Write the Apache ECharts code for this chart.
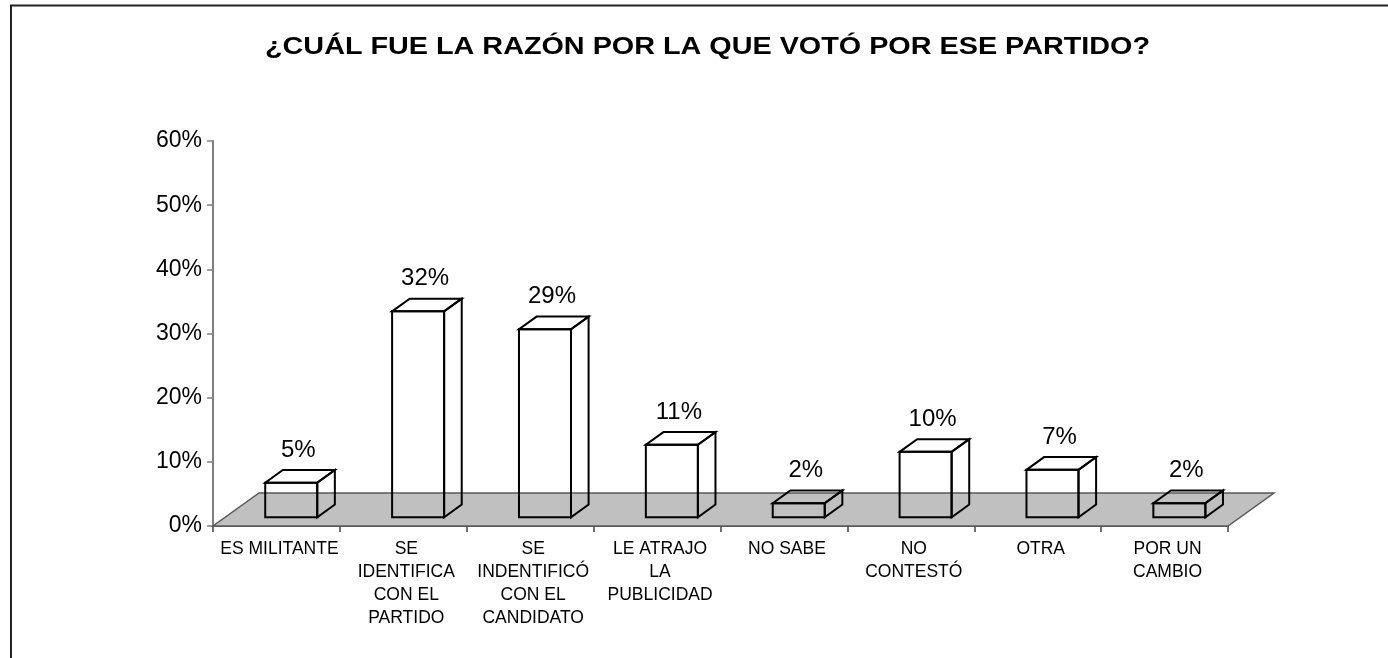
<!DOCTYPE html>
<html>
<head>
<meta charset="utf-8">
<script src="https://cdn.jsdelivr.net/npm/echarts@6/dist/echarts.min.js"></script>
<style>
html,body{margin:0;padding:0;background:#fff;}
#chart{width:1388px;height:658px;}
</style>
</head>
<body>
<div id="chart"></div>
<script>
// ---- data ----
var titleText = '¿CUÁL FUE LA RAZÓN POR LA QUE VOTÓ POR ESE PARTIDO?';
var categories = [
  'ES MILITANTE',
  'SE\nIDENTIFICA\nCON EL\nPARTIDO',
  'SE\nINDENTIFICÓ\nCON EL\nCANDIDATO',
  'LE ATRAJO\nLA\nPUBLICIDAD',
  'NO SABE',
  'NO\nCONTESTÓ',
  'OTRA',
  'POR UN\nCAMBIO'
];
var values = [5.4, 32.1, 29.3, 11.3, 2.2, 10.2, 7.4, 2.2];
var yTicks = [0, 10, 20, 30, 40, 50, 60];

// ---- drawing ----
var FONT = '"Liberation Sans", Arial, Helvetica, sans-serif';
var chart = echarts.init(document.getElementById('chart'), null, {renderer: 'canvas'});

var floorDepth = [46, -33];   // px offset of floor back edge
var barShift = [14.8, -8.7];  // offset of bar front face from axis front
var barDepth = [17.6, -12.7]; // depth of each bar
var barWidthRatio = 0.41;

function renderFloor(params, api) {
  var n = categories.length;
  var c0 = api.coord([0, 0]);
  var cn = api.coord([n - 1, 0]);
  var w = api.size([1, 0])[0];
  var x0 = c0[0] - w / 2, x1 = cn[0] + w / 2, y = c0[1];
  return {
    type: 'polygon',
    shape: {points: [[x0, y], [x1, y], [x1 + floorDepth[0], y + floorDepth[1]], [x0 + floorDepth[0], y + floorDepth[1]]]},
    style: {fill: '#c0c0c0', stroke: '#5a5a5a', lineWidth: 1.5},
    z2: 0
  };
}

function renderBar(params, api) {
  var i = api.value(0), v = api.value(1);
  var base = api.coord([i, 0]);
  var topP = api.coord([i, v]);
  var w = api.size([1, 0])[0] * barWidthRatio;
  var cx = base[0] + barShift[0];
  var yb = base[1] + barShift[1];
  var yt = topP[1] + barShift[1];
  var xl = cx - w / 2, xr = cx + w / 2;
  var dx = barDepth[0], dy = barDepth[1];
  var st = {fill: 'none', stroke: '#000', lineWidth: 2, lineJoin: 'miter'};
  return {
    type: 'group',
    children: [
      {type: 'rect', shape: {x: xl, y: yt, width: w, height: yb - yt}, style: st},
      {type: 'polygon', shape: {points: [[xl, yt], [xr, yt], [xr + dx, yt + dy], [xl + dx, yt + dy]]}, style: st},
      {type: 'polygon', shape: {points: [[xr, yt], [xr, yb], [xr + dx, yb + dy], [xr + dx, yt + dy]]}, style: st},
      {type: 'text', style: {
        text: Math.round(v) + '%', x: cx + 7, y: yt - 20.5,
        textAlign: 'center', textVerticalAlign: 'bottom',
        font: '24px ' + FONT, fill: '#000'
      }}
    ]
  };
}

// title width stretch (reference title is horizontally wide)
var titleFont = 'bold 24px ' + FONT;
var cv = document.createElement('canvas').getContext('2d');
cv.font = titleFont;
var tw = cv.measureText(titleText).width || 700;
var titleScale = 885 / tw;

var option = {
  animation: false,
  backgroundColor: '#fff',
  grid: {left: 213, right: 160, top: 141, bottom: 132},
  xAxis: {
    type: 'category',
    data: categories,
    axisLine: {show: true, lineStyle: {color: '#666', width: 2}},
    axisTick: {show: true, length: 6, lineStyle: {color: '#444', width: 1.5}},
    axisLabel: {
      interval: 0, margin: 12, color: '#000', fontSize: 17.5, lineHeight: 23,
      fontFamily: FONT, align: 'center', padding: [0, 0, 0, 6]
    },
    splitLine: {show: false}
  },
  yAxis: {
    type: 'value', min: 0, max: 60, interval: 10,
    axisLine: {show: true, lineStyle: {color: '#808080', width: 2}},
    axisTick: {show: true, length: 6, lineStyle: {color: '#808080', width: 1.5}},
    axisLabel: {
      margin: 11, color: '#000', fontSize: 23, fontFamily: FONT,
      formatter: function (val) { return yTicks.indexOf(val) >= 0 ? val + '%' : ''; }
    },
    splitLine: {show: false}
  },
  graphic: [
    {type: 'rect', z: -10, silent: true,
     shape: {x: 11, y: 5.5, width: 1420, height: 720},
     style: {fill: 'none', stroke: '#222', lineWidth: 2}},
    {type: 'text', z: 10, x: 707.5, y: 47, scaleX: titleScale,
     style: {text: titleText, x: 0, y: 0, textAlign: 'center', textVerticalAlign: 'middle',
             font: titleFont, fill: '#000'}}
  ],
  series: [
    {type: 'custom', name: 'floor', data: [[0, 0]], renderItem: renderFloor, clip: false, silent: true, z: 1},
    {type: 'custom', name: 'bars', data: values.map(function (v, i) { return [i, v]; }),
     renderItem: renderBar, clip: false, z: 2,
     encode: {x: 0, y: 1}}
  ]
};
chart.setOption(option);
</script>
</body>
</html>
